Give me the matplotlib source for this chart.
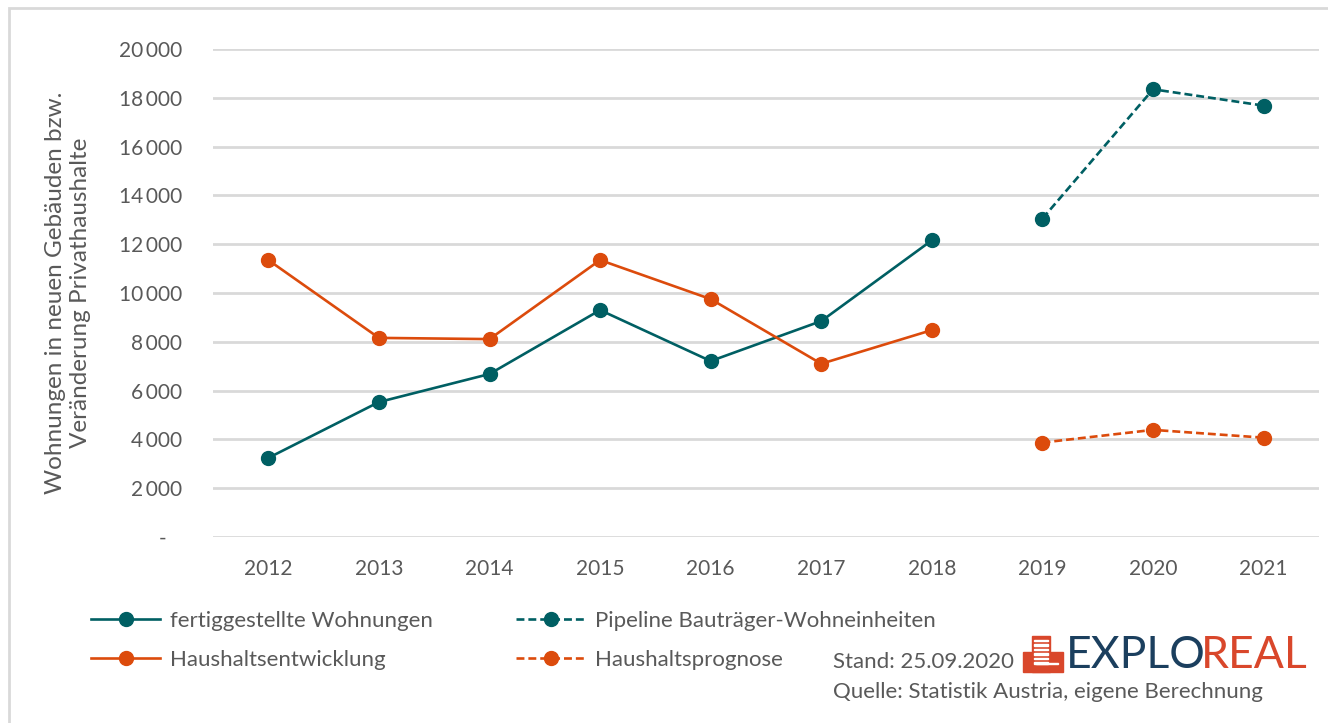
import matplotlib.pyplot as plt
import numpy as np
from matplotlib.lines import Line2D
from matplotlib.patches import Rectangle
from matplotlib.ticker import FuncFormatter

plt.rcParams['font.family'] = ['Lato', 'DejaVu Sans']

years = ['2012', '2013', '2014', '2015', '2016', '2017', '2018', '2019', '2020', '2021']
fertig = [3240, 5530, 6680, 9300, 7210, 8850, 12160]          # 2012-2018
pipeline = [13050, 18350, 17680]                             # 2019-2021
haushalt = [11350, 8160, 8110, 11350, 9750, 7100, 8480]       # 2012-2018
prognose = [3870, 4390, 4070]                                # 2019-2021

teal = '#005F63'
orange = '#DC4B0C'
grey = '#595959'

fig = plt.figure(figsize=(13.28, 7.23), dpi=100)
ax = fig.add_axes([0.1604, 0.2573, 0.8328, 0.6749])

x = np.arange(len(years))
lw, ms = 1.9, 10
dash = (0, (3, 1.5))
ax.plot(x[:7], fertig, color=teal, lw=lw, marker='o', ms=ms)
ax.plot(x[7:], pipeline, color=teal, lw=lw, marker='o', ms=ms, linestyle=dash)
ax.plot(x[:7], haushalt, color=orange, lw=lw, marker='o', ms=ms)
ax.plot(x[7:], prognose, color=orange, lw=lw, marker='o', ms=ms, linestyle=dash)

ax.set_xlim(-0.5, len(years) - 0.5)
ax.set_ylim(0, 20000)
ax.set_xticks(x)
ax.set_xticklabels(years)
ax.set_yticks(np.arange(0, 20001, 2000))
ax.yaxis.set_major_formatter(FuncFormatter(lambda v, p: '-   ' if v == 0 else f'{int(v):,}'.replace(',', '\u2009')))
ax.tick_params(length=0, labelsize=15, labelcolor=grey)
ax.tick_params(axis='x', pad=16)
ax.tick_params(axis='y', pad=22)
ax.grid(axis='y', color='#D9D9D9', lw=2)
ax.set_axisbelow(True)
for s in ax.spines.values():
    s.set_visible(False)

ax.set_ylabel('Wohnungen in neuen Gebäuden bzw.\nVeränderung Privathaushalte',
              fontsize=17.5, color=grey, labelpad=20, linespacing=1.25)

handles = [
    Line2D([], [], color=teal, lw=lw, marker='o', ms=ms),
    Line2D([], [], color=orange, lw=lw, marker='o', ms=ms),
    Line2D([], [], color=teal, lw=lw, marker='o', ms=ms, linestyle=dash),
    Line2D([], [], color=orange, lw=lw, marker='o', ms=ms, linestyle=dash),
]
labels = ['fertiggestellte Wohnungen', 'Haushaltsentwicklung',
          'Pipeline Bauträger-Wohneinheiten', 'Haushaltsprognose']
leg = fig.legend(handles, labels, ncol=2, loc='upper left', bbox_to_anchor=(0.0537, 0.183),
                 frameon=False, fontsize=16, handlelength=3.1, handletextpad=0.45,
                 columnspacing=3.75, labelspacing=0.85)
for t in leg.get_texts():
    t.set_color(grey)

W, H = 1328, 723
fig.text(833 / W, 1 - 662 / H, 'Stand: 25.09.2020', fontsize=16, color=grey, va='center')
fig.text(833 / W, 1 - 692 / H, 'Quelle: Statistik Austria, eigene Berechnung',
         fontsize=16, color=grey, va='center')

# logo
red = '#D9472B'
fig.patches.append(Rectangle((1023 / W, 1 - 672 / H), 40 / W, 20 / H, transform=fig.transFigure,
                             color=red, zorder=3))
fig.patches.append(Rectangle((1032 / W, 1 - 672 / H), 18 / W, 36 / H, transform=fig.transFigure,
                             color=red, zorder=3))
for k in range(6):
    fig.patches.append(Rectangle((1034 / W, 1 - (641 + k * 4.5) / H), 14 / W, 1.2 / H,
                                 transform=fig.transFigure, color='white', zorder=4))
fig.patches.append(Rectangle((1036 / W, 1 - 664 / H), 22 / W, 1.5 / H,
                             transform=fig.transFigure, color='white', zorder=4))
fig.text(1066 / W, 1 - 656 / H, 'EXPLO', fontsize=32, color='#1B3F5E', va='center')
fig.text(1201 / W, 1 - 656 / H, 'REAL', fontsize=32, color=red, va='center')

fig.patches.append(Rectangle((9 / W, -0.1), 1.2, 1 - 8 / H + 0.1, transform=fig.transFigure,
                             fill=False, edgecolor='#D9D9D9', lw=2))

fig.savefig('out.png', dpi=100)
